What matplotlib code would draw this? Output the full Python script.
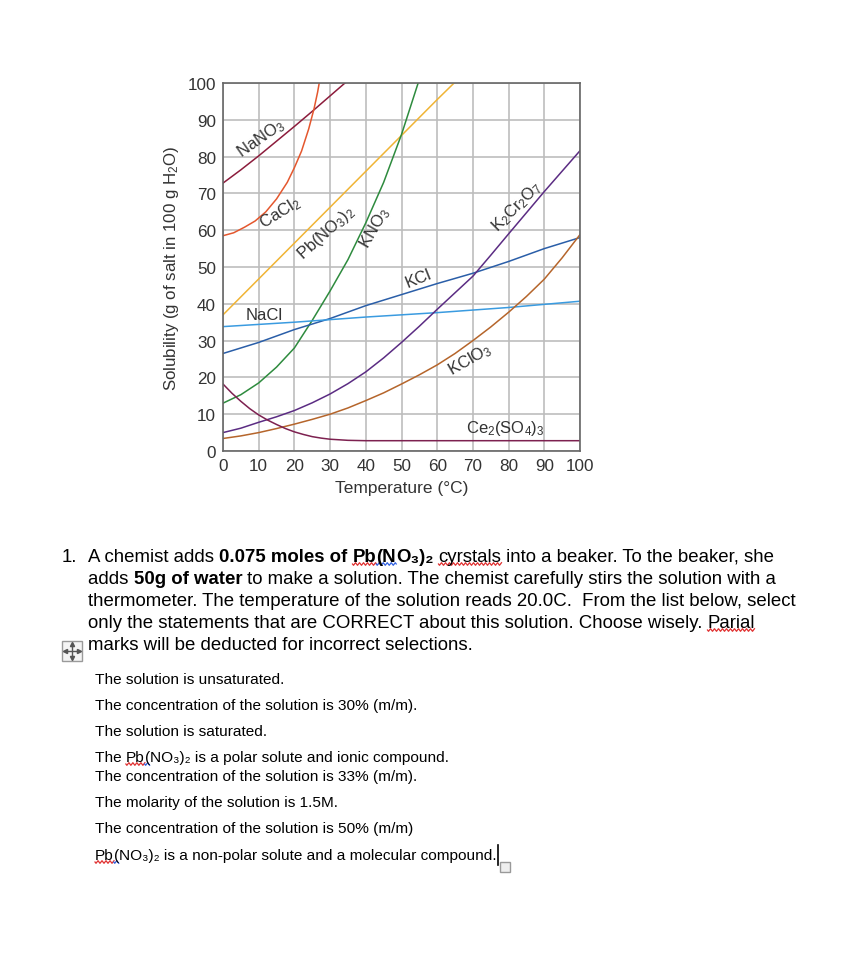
import numpy as np
import matplotlib
matplotlib.use("Agg")
import matplotlib.pyplot as plt
from matplotlib.lines import Line2D
from matplotlib.patches import Rectangle
from matplotlib.transforms import IdentityTransform

plt.rcParams['font.family'] = ['Liberation Sans', 'DejaVu Sans']
plt.rcParams['mathtext.fontset'] = 'custom'
plt.rcParams['mathtext.rm'] = 'Liberation Sans'
plt.rcParams['mathtext.it'] = 'Liberation Sans:italic'
plt.rcParams['mathtext.bf'] = 'Liberation Sans:bold'

W, H = 860, 978

# solubility curves (g per 100 g water)
nano3_t = [0, 5, 10, 15, 20, 25, 30, 35, 40]
nano3_s = [72.8, 76.4, 80.2, 84.2, 88.2, 92.3, 96.5, 100.7, 105]
cacl2_t = [0, 3, 6, 9, 12, 15, 18, 20, 22, 24, 25.5, 26.5, 27.5]
cacl2_s = [58.5, 59.3, 60.8, 62.5, 65, 68.5, 73, 77, 81.5, 87.5, 93, 97.5, 103]
pbno32_t = [0, 20, 40, 60, 70]
pbno32_s = [37, 56.5, 76, 95.5, 105]
kno3_t = [0, 5, 10, 15, 20, 25, 30, 35, 40, 45, 50, 55]
kno3_s = [13, 15.3, 18.5, 22.8, 28, 35.5, 43.5, 52, 62, 73, 86, 101]
kcl_t = [0, 10, 20, 30, 40, 50, 60, 70, 80, 90, 100]
kcl_s = [26.5, 29.5, 33, 36, 39.5, 42.5, 45.5, 48.3, 51.5, 55, 58]
nacl_t = [0, 20, 40, 60, 80, 100]
nacl_s = [33.8, 35, 36.4, 37.6, 39, 40.7]
k2cr2o7_t = [0, 5, 10, 15, 20, 25, 30, 35, 40, 45, 50, 55, 60, 65, 70, 75, 80, 90, 100]
k2cr2o7_s = [5, 6.2, 7.8, 9.3, 11, 13.1, 15.5, 18.3, 21.5, 25.3, 29.5, 33.9, 38.5,
             43, 47.5, 53.2, 59, 70.5, 81.6]
kclo3_t = [0, 5, 10, 15, 20, 25, 30, 35, 40, 45, 50, 55, 60, 65, 70, 75, 80, 85, 90, 95, 100]
kclo3_s = [3.4, 4.1, 5, 6.1, 7.3, 8.6, 10, 11.7, 13.7, 15.8, 18.2, 20.7, 23.4, 26.5,
           30, 33.7, 37.7, 42, 46.7, 52.5, 58.8]
ce_t = [0, 2.5, 5, 7.5, 10, 12.5, 15, 17.5, 20, 22.5, 25, 27.5, 30, 35, 40, 100]
ce_s = [18.2, 15.7, 13.5, 11.5, 9.8, 8.4, 7.2, 6.1, 5.2, 4.5, 3.9, 3.5, 3.2, 2.9, 2.8, 2.8]

ticks = list(range(0, 101, 10))

question = [
    [("A chemist adds ", "normal", None), ("0.075 moles of ", "bold", None),
     ("Pb", "bold", "red"), ("(N", "bold", "blue"), ("O₃)₂", "bold", None),
     (" ", "normal", None), ("cyrstals", "normal", "red"),
     (" into a beaker. To the beaker, she", "normal", None)],
    [("adds ", "normal", None), ("50g of water", "bold", None),
     (" to make a solution. The chemist carefully stirs the solution with a", "normal", None)],
    [("thermometer. The temperature of the solution reads 20.0C.  From the list below, select", "normal", None)],
    [("only the statements that are CORRECT about this solution. Choose wisely. ", "normal", None),
     ("Parial", "normal", "red")],
    [("marks will be deducted for incorrect selections.", "normal", None)],
]
options = [
    [("The solution is unsaturated.", "normal", None)],
    [("The concentration of the solution is 30% (m/m).", "normal", None)],
    [("The solution is saturated.", "normal", None)],
    [("The ", "normal", None), ("Pb", "normal", "red"), ("(", "normal", "blue"),
     ("NO₃)₂ is a polar solute and ionic compound.", "normal", None)],
    [("The concentration of the solution is 33% (m/m).", "normal", None)],
    [("The molarity of the solution is 1.5M.", "normal", None)],
    [("The concentration of the solution is 50% (m/m)", "normal", None)],
    [("Pb", "normal", "red"), ("(", "normal", "blue"),
     ("NO₃)₂ is a non-polar solute and a molecular compound.", "normal", None)],
]

fig = plt.figure(figsize=(W / 100, H / 100), dpi=100)
ax = fig.add_axes([223 / W, 1 - 452 / H, 357 / W, 368 / H])

ax.plot(nano3_t, nano3_s, color='#8c1c3c', lw=1.1)
ax.plot(cacl2_t, cacl2_s, color='#e4572e', lw=1.1)
ax.plot(pbno32_t, pbno32_s, color='#f0b435', lw=1.1)
ax.plot(kno3_t, kno3_s, color='#2e8b3e', lw=1.1)
ax.plot(kcl_t, kcl_s, color='#2a5ea8', lw=1.1)
ax.plot(nacl_t, nacl_s, color='#3a9be0', lw=1.1)
ax.plot(k2cr2o7_t, k2cr2o7_s, color='#5b2c83', lw=1.1)
ax.plot(kclo3_t, kclo3_s, color='#b5652b', lw=1.1)
ax.plot(ce_t, ce_s, color='#7d2150', lw=1.1)

ax.set_xlim(0, 100)
ax.set_ylim(0, 100)
ax.set_xticks(ticks)
ax.set_yticks(ticks)
ax.grid(True, color='#bdbdbd', lw=1.2)
ax.set_axisbelow(True)
for s in ax.spines.values():
    s.set_color('#666666')
    s.set_linewidth(1.2)
ax.tick_params(length=0, pad=5, labelsize=12.3, labelcolor='#333333')
ax.set_xlabel("Temperature (°C)", fontsize=12.5, color='#333333', labelpad=5)
ax.set_ylabel("Solubility (g of salt in 100 g H$_2$O)", fontsize=12.2,
              color='#333333', labelpad=5)

lab = dict(fontsize=12, color='#333333', ha='center', va='center',
           rotation_mode='anchor')
ax.text(10.6, 85.0, "NaNO$_3$", rotation=35, **lab)
ax.text(16, 65, "CaCl$_2$", rotation=32, **lab)
ax.text(28.9, 59.5, "Pb(NO$_3$)$_2$", rotation=42, **lab)
ax.text(42.6, 60.9, "KNO$_3$", rotation=60, **lab)
ax.text(82.4, 66.6, "K$_2$Cr$_2$O$_7$", rotation=45, **lab)
ax.text(54.6, 47, "KCl", rotation=22, **lab)
ax.text(11.5, 37.2, "NaCl", rotation=0, **lab)
ax.text(69.2, 25, "KClO$_3$", rotation=30, **lab)
ax.text(79, 6.5, "Ce$_2$(SO$_4$)$_3$", rotation=0, **lab)

rend = fig.canvas.get_renderer()


def squiggle(x0, x1, yb, color):
    xs = np.arange(x0, x1 + 0.5, 1.0)
    ys = yb + 3 + 1.3 * np.sin((xs - x0) * np.pi / 2)
    fig.add_artist(Line2D(xs, H - ys, color='#e03030' if color == 'red' else '#3060e0',
                          lw=0.9, transform=IdentityTransform()))


def draw_runs(x, yb, runs, size):
    for txt, weight, sq in runs:
        t = fig.text(x / W, 1 - yb / H, txt, fontsize=size, fontweight=weight,
                     va='baseline', ha='left', color='black')
        bb = t.get_window_extent(renderer=rend)
        if sq:
            squiggle(bb.x0, bb.x1, yb, sq)
        x = bb.x1


fig.text(62 / W, 1 - 562 / H, "1.", fontsize=13.4, va='baseline')
for i, runs in enumerate(question):
    draw_runs(88, 562 + 22 * i, runs, 13.4)

opt_y = [684, 710, 736, 762, 781, 807, 833, 860]
for yb, runs in zip(opt_y, options):
    draw_runs(95, yb, runs, 11.1)

# table move handle
fig.add_artist(Rectangle((62, H - 662), 20, 20, transform=IdentityTransform(),
                         facecolor='#f4f4f4', edgecolor='#9a9a9a', lw=1))
fig.add_artist(Line2D([65, 79], [H - 652, H - 652], color='#555555', lw=1,
                      transform=IdentityTransform()))
fig.add_artist(Line2D([72, 72], [H - 659, H - 645], color='#555555', lw=1,
                      transform=IdentityTransform()))
for mx, my, m in [(65, 652, '<'), (79, 652, '>'), (72, 645, '^'), (72, 659, 'v')]:
    fig.add_artist(Line2D([mx], [H - my], marker=m, ms=3, color='#555555',
                          transform=IdentityTransform()))

# text cursor and resize box
fig.add_artist(Line2D([498, 498], [H - 846, H - 866], color='black', lw=1.2,
                      transform=IdentityTransform()))
fig.add_artist(Rectangle((500, H - 873), 10, 10, transform=IdentityTransform(),
                         facecolor='#eeeeee', edgecolor='#999999', lw=1))

fig.savefig("out.png", dpi=100)
